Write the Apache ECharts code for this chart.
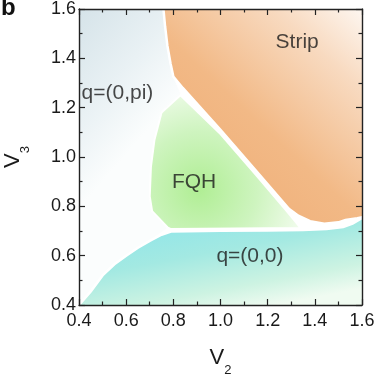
<!DOCTYPE html>
<html>
<head>
<meta charset="utf-8">
<script src="https://cdn.jsdelivr.net/npm/echarts@6/dist/echarts.min.js"></script>
<style>
  html, body { margin: 0; padding: 0; background: #fff; }
  #chart { width: 374px; height: 375px; }
</style>
</head>
<body>
<div id="chart"></div>
<script>
// phase boundaries as [V2, V3]
const piEdge = [[0.38, 0.38], [0.38, 1.65], [0.753, 1.65], [0.765, 1.53], [0.775, 1.45], [0.788, 1.38],
  [0.80, 1.326], [0.835, 1.25], [0.75, 1.18], [0.72, 1.07], [0.705, 0.96], [0.70, 0.84], [0.71, 0.78],
  [0.775, 0.712], [0.70, 0.66], [0.60, 0.60], [0.50, 0.52], [0.40, 0.40]]
const stripEdge = [[0.753, 1.65], [0.765, 1.53], [0.775, 1.45], [0.788, 1.38], [0.80, 1.326], [0.84, 1.28],
  [1.0, 1.11], [1.15, 0.945], [1.29, 0.79], [1.33, 0.762], [1.38, 0.74], [1.44, 0.729], [1.50, 0.735],
  [1.53, 0.745], [1.58, 0.752], [1.65, 0.765], [1.65, 1.65]]
const fqhEdge = [[0.83, 1.25], [1.0, 1.093], [1.15, 0.928], [1.28, 0.782], [1.34, 0.712], [0.79, 0.708],
  [0.775, 0.715], [0.71, 0.78], [0.70, 0.84], [0.705, 0.96], [0.72, 1.07], [0.75, 1.18]]
const zeroEdge = [[0.38, 0.38], [0.40, 0.40], [0.45, 0.455], [0.50, 0.52], [0.55, 0.565], [0.60, 0.60],
  [0.65, 0.632], [0.70, 0.66], [0.75, 0.685], [0.79, 0.698], [1.0, 0.701], [1.2, 0.702], [1.35, 0.704],
  [1.45, 0.708], [1.52, 0.716], [1.56, 0.73], [1.60, 0.752], [1.65, 0.76], [1.65, 0.38]]

const phaseNames = ['q=(0,pi)', 'Strip', 'FQH', 'q=(0,0)']
const labelX = [0.563, 1.325, 0.888, 1.125]
const labelY = [1.258, 1.466, 0.899, 0.596]
const tickLabels = ['0.4', '0.6', '0.8', '1.0', '1.2', '1.4', '1.6']

const font = 'Liberation Sans, Arial, sans-serif'
const G = echarts.graphic

function region (name, pts, fill, stroke, width) {
  return {
    type: 'custom', name: name, data: pts, clip: true, silent: true,
    encode: { x: 0, y: 1 },
    renderItem: function (params, api) {
      if (params.dataIndex !== 0) return
      return {
        type: 'polygon',
        shape: { points: pts.map(p => api.coord(p)) },
        style: { fill: fill, stroke: stroke, lineWidth: width }
      }
    }
  }
}

function axis (pos, show) {
  return {
    type: 'value', position: pos, min: 0.4, max: 1.6, interval: 0.2, z: 10,
    axisLine: { show: true, onZero: false, lineStyle: { color: '#222', width: 1.4 } },
    axisTick: { show: true, inside: true, length: 6, lineStyle: { color: '#222', width: 1.2 } },
    minorTick: { show: true, splitNumber: 2, length: 3.5, lineStyle: { color: '#222', width: 1.2 } },
    splitLine: { show: false },
    axisLabel: {
      show: show, fontSize: 18, color: '#1a1a1a', fontFamily: font, hideOverlap: false,
      formatter: v => tickLabels[Math.round((v - 0.4) / 0.2)]
    }
  }
}

let xMain = axis('bottom', true)
xMain.axisLabel.margin = 7
xMain.name = '{v|V}{s|2}'
xMain.nameLocation = 'middle'
xMain.nameGap = 42
xMain.nameTextStyle = { rich: {
  v: { fontSize: 22, fontFamily: font, color: '#1a1a1a', lineHeight: 30, verticalAlign: 'top' },
  s: { fontSize: 13, fontFamily: font, color: '#1a1a1a', lineHeight: 30, verticalAlign: 'bottom' }
} }
let yMain = axis('left', true)
yMain.axisLabel.margin = 3
yMain.name = '{v|V}{s|3}'
yMain.nameLocation = 'middle'
yMain.nameRotate = 90
yMain.nameGap = 47
yMain.nameTextStyle = xMain.nameTextStyle

const option = {
  animation: false,
  backgroundColor: '#fff',
  grid: { left: 79, right: 12, top: 9, bottom: 70, outerBoundsMode: 'none' },
  xAxis: [xMain, axis('top', false)],
  yAxis: [yMain, axis('right', false)],
  graphic: [{ type: 'text', left: 1, top: -4, style: { text: 'b', font: 'bold 24px ' + font, fill: '#111' } }],
  series: [
    region('q=(0,pi)', piEdge, new G.LinearGradient(0, 0, 1, 0.3, [
      { offset: 0, color: '#d2e1e7' }, { offset: 0.6, color: '#e9f1f4' }, { offset: 1, color: '#fbfdfd' }]), '#fff', 1),
    region('q=(0,0)', zeroEdge, new G.LinearGradient(0.5, 0, 0.56, 1, [
      { offset: 0, color: '#93e6e8' }, { offset: 0.35, color: '#a3e9e2' }, { offset: 0.75, color: '#cdf3e2' },
      { offset: 1, color: '#f0fbf1' }]), '#fff', 2.5),
    region('FQH', fqhEdge, new G.RadialGradient(0.33, 0.7, 0.85, [
      { offset: 0, color: '#b0ee94' }, { offset: 0.5, color: '#cef4bf' }, { offset: 1, color: '#f7fdf4' }]), '#fff', 2),
    region('Strip', stripEdge, new G.LinearGradient(0, 1, 1, 0, [
      { offset: 0, color: '#eea96f' }, { offset: 0.45, color: '#f2b986' }, { offset: 0.75, color: '#f8dac0' },
      { offset: 1, color: '#ffffff' }]), '#fff', 2.5),
    {
      type: 'scatter', symbolSize: 0, silent: true, z: 5,
      data: phaseNames.map((t, i) => [labelX[i], labelY[i], t]),
      label: {
        show: true, position: 'inside', formatter: p => p.value[2],
        fontSize: 21, fontFamily: font, color: '#1a1a1a'
      }
    }
  ]
}

echarts.init(document.getElementById('chart')).setOption(option)
</script>
</body>
</html>
